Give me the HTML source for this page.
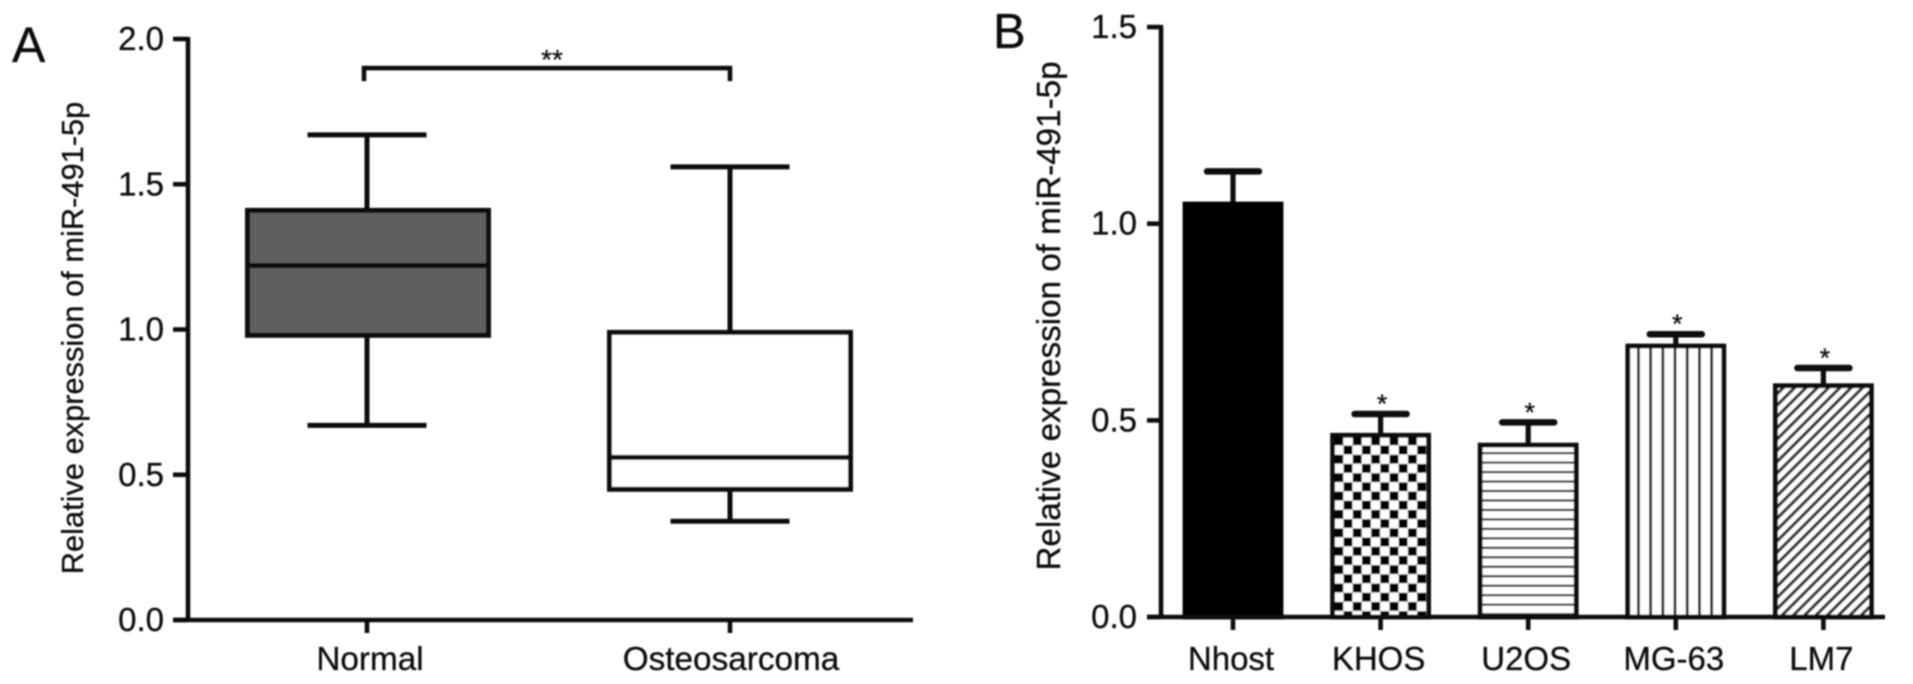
<!DOCTYPE html>
<html lang="en">
<head>
<meta charset="utf-8">
<title>Relative expression of miR-491-5p</title>
<style>
html,body{margin:0;padding:0;background:#fff;width:1913px;height:684px;overflow:hidden}
svg{display:block}
text{font-family:"Liberation Sans",sans-serif;fill:#111;stroke:#111;stroke-width:0.3px}
</style>
</head>
<body>
<svg id="fig" xmlns="http://www.w3.org/2000/svg" width="1913" height="684" viewBox="0 0 1913 684">
  <defs>
    <filter id="soft" x="-5%" y="-5%" width="110%" height="110%"><feGaussianBlur stdDeviation="0.7"/></filter>
    <pattern id="pat-check" patternUnits="userSpaceOnUse" width="18.4" height="18.4" x="1334" y="436">
      <rect width="18.4" height="18.4" fill="#fff"/>
      <rect x="0.4" y="0.4" width="8.8" height="8.8" fill="#000"/>
      <rect x="9.6" y="9.6" width="8.8" height="8.8" fill="#000"/>
    </pattern>
    <pattern id="pat-horizontal" patternUnits="userSpaceOnUse" width="10" height="9.47" x="0" y="452">
      <rect width="10" height="9.47" fill="#fff"/>
      <rect y="0" width="10" height="2.2" fill="#333"/>
    </pattern>
    <pattern id="pat-vertical" patternUnits="userSpaceOnUse" width="12.2" height="10" x="1637" y="0">
      <rect width="12.2" height="10" fill="#fff"/>
      <rect x="0" width="2.8" height="10" fill="#222"/>
    </pattern>
    <pattern id="pat-diagonal" patternUnits="userSpaceOnUse" width="8" height="8" patternTransform="rotate(-45 1773 383)">
      <rect width="8" height="8" fill="#fff"/>
      <rect y="0" width="8" height="3.2" fill="#333"/>
    </pattern>
  </defs>
  <g id="art" filter="url(#soft)"></g>
</svg>
<script>
// Panel A: box plot
var boxCategories = ['Normal', 'Osteosarcoma'];
var boxWhiskerHigh = [1.67, 1.56];
var boxQ3 = [1.41, 0.99];
var boxMedian = [1.22, 0.56];
var boxQ1 = [0.98, 0.45];
var boxWhiskerLow = [0.67, 0.34];
var boxFills = ['#5f5f5f', '#ffffff'];
var boxTicks = [0, 0.5, 1, 1.5, 2];
var boxBracketLabel = '**';

// Panel B: bar chart
var barCategories = ['Nhost', 'KHOS', 'U2OS', 'MG-63', 'LM7'];
var barValues = [1.05, 0.462, 0.437, 0.689, 0.588];
var barErrorTop = [1.133, 0.516, 0.495, 0.719, 0.633];
var barMarks = ['', '*', '*', '*', '*'];
var barFills = ['#000', 'url(#pat-check)', 'url(#pat-horizontal)', 'url(#pat-vertical)', 'url(#pat-diagonal)'];
var barTicks = [0, 0.5, 1, 1.5];

var yTitle = 'Relative expression of miR-491-5p';

var art = document.getElementById('art');
var NS = 'http://www.w3.org/2000/svg';

function yA(v){ return 620 - v * 290.5; }
function xA(i){ return 368 + i * 362; }
function yB(v){ return 617 - v * 393.3; }
function xB(i){ return 1233 + i * 147.6; }

function make(tag, attrs, txt){
  var el = document.createElementNS(NS, tag);
  for (var k in attrs) el.setAttribute(k, attrs[k]);
  if (txt !== undefined) el.textContent = txt;
  art.appendChild(el);
  return el;
}
function seg(x1, y1, x2, y2, w, cap){
  return make('line', {x1:x1, y1:y1, x2:x2, y2:y2, stroke:'#111', 'stroke-width':w, 'stroke-linecap':cap || 'butt'});
}
function label(x, y, s, size, anchor){
  return make('text', {x:x, y:y, 'font-size':size, 'text-anchor':anchor || 'middle'}, s);
}
function vlabel(x, y, s, size){
  return make('text', {x:0, y:0, 'font-size':size, 'text-anchor':'middle', transform:'translate(' + x + ' ' + y + ') rotate(-90)'}, s);
}

var el;

// Panel letters
el = label(12, 62, 'A', 50, 'start');


el = label(993, 48, 'B', 49, 'start');



// Axis titles
el = vlabel(83, 338, yTitle, 30.8);


el = vlabel(1060, 316, yTitle, 33.2);



// Panel A marks
boxCategories.forEach(function(name, i){
  var x = xA(i), half = 120.5, capHalf = 59.5;
  var wx = 367 + i * 363;
  el = seg(wx, yA(boxWhiskerHigh[i]), wx, yA(boxWhiskerLow[i]), 5);
  
  
  el = seg(wx - capHalf, yA(boxWhiskerHigh[i]), wx + capHalf, yA(boxWhiskerHigh[i]), 5);
  
  
  el = seg(wx - capHalf, yA(boxWhiskerLow[i]), wx + capHalf, yA(boxWhiskerLow[i]), 5);
  
  
  el = make('rect', {x:x - half, y:yA(boxQ3[i]), width:half * 2, height:yA(boxQ1[i]) - yA(boxQ3[i]), fill:boxFills[i], stroke:'#111', 'stroke-width':5});
  
  
  el = seg(x - half, yA(boxMedian[i]), x + half, yA(boxMedian[i]), 5);
  
  
});

// Panel A axes
el = seg(188, yA(2) - 2, 188, yA(0) + 2, 4.6);


el = seg(173, yA(0), 913, yA(0), 4.6);


boxTicks.forEach(function(t){
  el = seg(173, yA(t), 188, yA(t), 4.6);
  
  
  el = label(164, yA(t) + 11, t.toFixed(1), 33, 'end');
  
  
});
boxCategories.forEach(function(name, i){
  var wx = 367 + i * 363;
  el = seg(wx, yA(0), wx, yA(0) + 13, 4.6);
  
  
  el = label(wx + (i === 0 ? 3 : 1), 670, name, 33.3);
  
  
});

// Panel A significance bracket
el = make('path', {d:'M364 ' + yA(1.855) + 'V' + yA(1.9) + 'H730V' + yA(1.855), fill:'none', stroke:'#111', 'stroke-width':4.6});


el = label(552, 69, boxBracketLabel, 28);



// Panel B marks
barCategories.forEach(function(name, i){
  var x = xB(i), half = 48, capHalf = 26;
  var slug = name.toLowerCase();
  el = seg(x, yB(barErrorTop[i]), x, yB(barValues[i]), 5.2);
  
  
  el = seg(x - capHalf, yB(barErrorTop[i]), x + capHalf, yB(barErrorTop[i]), 6.5, 'round');
  
  
  el = make('rect', {x:x - half, y:yB(barValues[i]), width:half * 2, height:yB(0) - yB(barValues[i]), fill:barFills[i], stroke:i === 0 ? '#000' : '#0a0a0a', 'stroke-width':4.8});
  
  
  if (barMarks[i]) {
    el = label(x + 1.5, yB(barErrorTop[i]) - 1, barMarks[i], 27);
    
    
  }
});

// Panel B axes
el = seg(1161, yB(1.5) - 2, 1161, yB(0) + 2, 4.6);


el = seg(1147, yB(0), 1885, yB(0), 4.6);


barTicks.forEach(function(t){
  el = seg(1147, yB(t), 1161, yB(t), 4.6);
  
  
  el = label(1137, yB(t) + 11, t.toFixed(1), 33, 'end');
  
  
});
barCategories.forEach(function(name, i){
  el = seg(xB(i), yB(0), xB(i), yB(0) + 13, 4.6);
  
  
  el = label(xB(i) - 2, 670, name, 33);
  
  
});
</script>
</body>
</html>
